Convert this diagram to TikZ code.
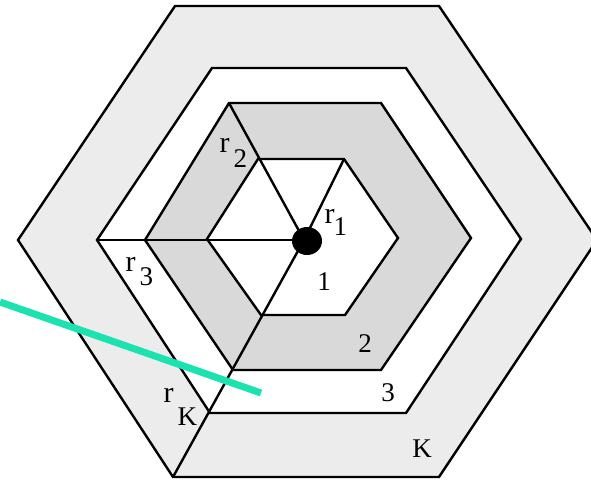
\documentclass[tikz,border=0pt]{standalone}
\usepackage{fontspec}
\setmainfont{Liberation Serif}
\definecolor{bandK}{RGB}{236,236,236}
\definecolor{bandtwo}{RGB}{217,217,217}
\definecolor{teal}{RGB}{28,226,176}
\newcommand{\subfont}{\fontsize{27}{27}\selectfont}
\begin{document}
\begin{tikzpicture}[x=1pt,y=-1pt,
  hexline/.style={line width=2.4pt,line join=miter},
  ray/.style={line width=2.4pt},
  lab/.style={inner sep=0pt,font=\fontsize{27}{27}\selectfont},
  rlab/.style={inner sep=0pt,anchor=base west,font=\fontsize{30}{30}\selectfont}]
\useasboundingbox (0,0) rectangle (591,480);
\clip (0,0) rectangle (591,480);
% hexagon vertices
\coordinate (K1) at (175,6);   \coordinate (K2) at (439,6);   \coordinate (K3) at (597,240);
\coordinate (K4) at (439,477); \coordinate (K5) at (173,477); \coordinate (K6) at (18,240);
\coordinate (T1) at (212,68);  \coordinate (T2) at (406,68);  \coordinate (T3) at (521,239);
\coordinate (T4) at (406,413); \coordinate (T5) at (210,413); \coordinate (T6) at (97,240);
\coordinate (S1) at (229,103); \coordinate (S2) at (381,103); \coordinate (S3) at (471,238);
\coordinate (S4) at (381,370); \coordinate (S5) at (233,370); \coordinate (S6) at (145,240);
\coordinate (I1) at (258,159); \coordinate (I2) at (344,159); \coordinate (I3) at (398,238);
\coordinate (I4) at (345,315); \coordinate (I5) at (261,315); \coordinate (I6) at (207,239);
\coordinate (C) at (304,240);
% fills and outlines
\draw[hexline,fill=bandK] (K1)--(K2)--(K3)--(K4)--(K5)--(K6)--cycle;
\draw[hexline,fill=white] (T1)--(T2)--(T3)--(T4)--(T5)--(T6)--cycle;
\draw[hexline,fill=bandtwo] (S1)--(S2)--(S3)--(S4)--(S5)--(S6)--cycle;
\draw[hexline,fill=white] (I1)--(I2)--(I3)--(I4)--(I5)--(I6)--cycle;
% rays
\draw[ray] (C) -- (I2);
\draw[ray] (C) -- (S1);
\draw[ray] (C) -- (T6);
\draw[ray] (C) -- (K5);
% dot
\fill (307,241) ellipse [x radius=15, y radius=14];
% labels
\node[rlab] (r1) at (324.5,223) {r\kern-1pt\raisebox{-12pt}{\subfont 1}};
\node[rlab] (r2) at (219.5,152) {r\kern4pt\raisebox{-15pt}{\subfont 2}};
\node[rlab] (r3) at (125.5,271) {r\kern4pt\raisebox{-14pt}{\subfont 3}};
\node[rlab] (rK) at (163.5,402) {r\kern4pt\raisebox{-23pt}{\subfont K}};
\node[lab] (n1) at (324,282) {1};
\node[lab] (n2) at (365,344) {2};
\node[lab] (n3) at (388,393) {3};
\node[lab] (nK) at (422,449) {K};
% teal line
\coordinate (tA) at (0,302);
\coordinate (tB) at (261,393);
\draw[teal,line width=7pt] (tA) -- (tB);
\end{tikzpicture}
\end{document}
